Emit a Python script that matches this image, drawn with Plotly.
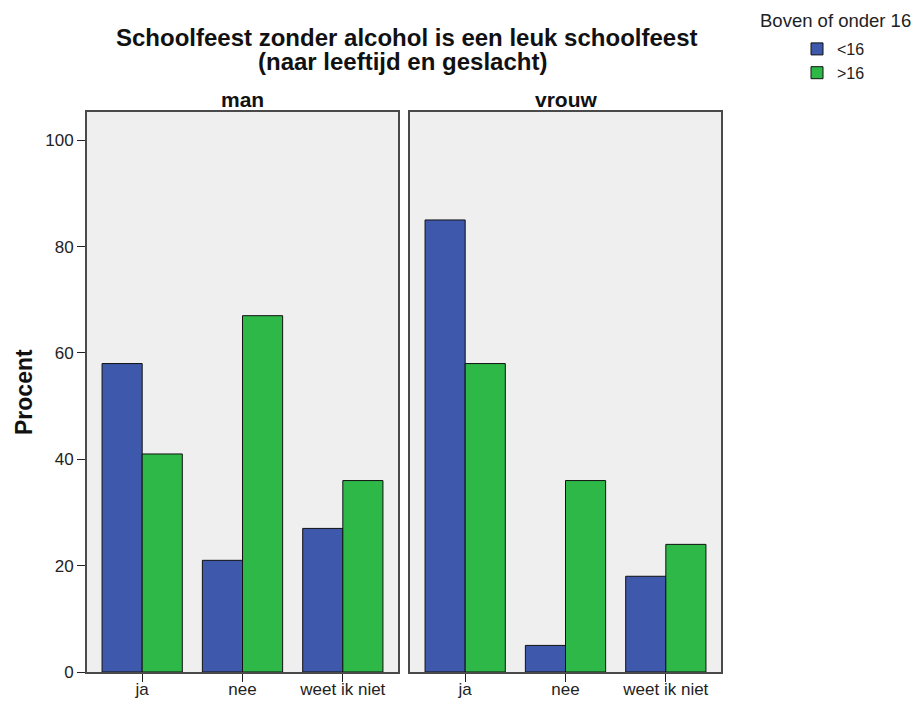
import plotly.graph_objects as go

categories = ["ja", "nee", "weet ik niet"]
panels = ["man", "vrouw"]
groups = ["<16", ">16"]
man_under16 = [58, 21, 27]
man_over16 = [41, 67, 36]
vrouw_under16 = [85, 5, 18]
vrouw_over16 = [58, 36, 24]
y_ticks = [0, 20, 40, 60, 80, 100]

colors = {"<16": "#3E58AC", ">16": "#2EB848"}
OFF = 8  # page body margin in the browser
W, H = 920, 702
FONT = "Liberation Sans, Arial, sans-serif"

data = {
    ("man", "<16"): man_under16,
    ("man", ">16"): man_over16,
    ("vrouw", "<16"): vrouw_under16,
    ("vrouw", ">16"): vrouw_over16,
}

fig = go.Figure()
for pi, panel in enumerate(panels):
    xa = "x" if pi == 0 else "x2"
    ya = "y" if pi == 0 else "y2"
    for g in groups:
        fig.add_trace(go.Bar(
            x=categories, y=data[(panel, g)], name=g,
            xaxis=xa, yaxis=ya, offsetgroup=g,
            marker=dict(color=colors[g], line=dict(color="#111111", width=1)),
            showlegend=(pi == 0),
        ))


def px_x(p):
    return (p - OFF) / W


def px_y(p):
    return 1 - (p - OFF) / H


dom_y = [px_y(672), px_y(112)]
axis_common = dict(showline=True, mirror=True, linecolor="#4a4a4a", linewidth=1.8,
                   showgrid=False, zeroline=False)
tick_common = dict(ticks="outside", ticklen=8, tickcolor="#222222", tickwidth=1.3,
                   tickfont=dict(size=17, color="#222222"))

fig.update_layout(
    width=W, height=H,
    margin=dict(l=0, r=0, t=0, b=0),
    paper_bgcolor="white", plot_bgcolor="#EFEFEF",
    barmode="group", bargap=0.2, bargroupgap=0,
    font=dict(family=FONT, size=16, color="#222222"),
    xaxis=dict(domain=[px_x(87), px_x(398)], type="category", range=[-0.55, 2.55],
               ticklabelstandoff=-7, **tick_common, **axis_common),
    xaxis2=dict(domain=[px_x(410), px_x(721)], type="category", range=[-0.55, 2.55],
                anchor="y2", ticklabelstandoff=-7, **tick_common, **axis_common),
    yaxis=dict(domain=dom_y, range=[0, 105.3], tickvals=y_ticks,
               automargin=False, **tick_common, **axis_common),
    yaxis2=dict(domain=dom_y, range=[0, 105.3], anchor="x2", matches="y",
                showticklabels=False, ticks="", **axis_common),
    legend=dict(x=px_x(797), y=px_y(32), xanchor="left", yanchor="top",
                bgcolor="rgba(0,0,0,0)", font=dict(size=16, color="#222222"),
                itemwidth=30, tracegroupgap=0),
    annotations=[
        dict(text="<b>Schoolfeest zonder alcohol is een leuk schoolfeest</b>",
             x=px_x(406), y=px_y(37), xref="paper", yref="paper", showarrow=False,
             font=dict(size=24, color="#111111"), xanchor="center", yanchor="middle"),
        dict(text="<b>(naar leeftijd en geslacht)</b>",
             x=px_x(402), y=px_y(61), xref="paper", yref="paper", showarrow=False,
             font=dict(size=24, color="#111111"), xanchor="center", yanchor="middle"),
        dict(text="<b>man</b>", x=px_x(242.5), y=px_y(99), xref="paper", yref="paper",
             showarrow=False, font=dict(size=21, color="#111111"),
             xanchor="center", yanchor="middle"),
        dict(text="<b>vrouw</b>", x=px_x(566), y=px_y(99), xref="paper", yref="paper",
             showarrow=False, font=dict(size=21, color="#111111"),
             xanchor="center", yanchor="middle"),
        dict(text="<b>Procent</b>", x=px_x(24), y=px_y(392), xref="paper", yref="paper",
             showarrow=False, textangle=-90, font=dict(size=23, color="#111111"),
             xanchor="center", yanchor="middle"),
        dict(text="Boven of onder 16", x=px_x(835), y=px_y(20), xref="paper", yref="paper",
             showarrow=False, font=dict(size=18.5, color="#222222"),
             xanchor="center", yanchor="middle"),
    ],
)

fig.write_html("out.html")
